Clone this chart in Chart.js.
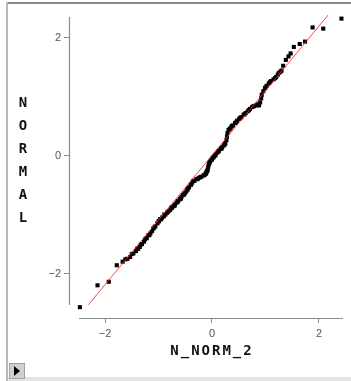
<!DOCTYPE html>
<html>
<head>
<meta charset="utf-8">
<script src="https://cdn.jsdelivr.net/npm/chart.js@4.4.1/dist/chart.umd.min.js"></script>
<style>
html,body{margin:0;padding:0;background:#fff;}
#wrap{position:relative;width:351px;height:381px;}
</style>
</head>
<body>
<div id="wrap"><canvas id="c" width="351" height="381"></canvas></div>
<script>
// Sample values (N_NORM_2) and normal quantiles (NORMAL)
const sampleX = [-2.47,-2.14,-1.93,-1.78,-1.67,-1.58,-1.53,-1.47,-1.42,-1.38,-1.35,-1.31,-1.27,-1.22,-1.19,-1.15,-1.12,-1.10,-1.06,-1.02,-0.99,-0.97,-0.93,-0.90,-0.87,-0.84,-0.81,-0.78,-0.75,-0.72,-0.69,-0.66,-0.63,-0.60,-0.57,-0.54,-0.51,-0.48,-0.46,-0.43,-0.40,-0.37,-0.33,-0.29,-0.25,-0.20,-0.16,-0.12,-0.10,-0.08,-0.07,-0.06,-0.04,-0.02,0.01,0.04,0.07,0.10,0.13,0.16,0.19,0.22,0.25,0.27,0.28,0.29,0.31,0.35,0.39,0.43,0.47,0.51,0.55,0.59,0.63,0.67,0.71,0.75,0.79,0.83,0.87,0.90,0.92,0.93,0.96,0.99,1.02,1.06,1.10,1.15,1.20,1.25,1.30,1.33,1.38,1.43,1.47,1.53,1.64,1.74,1.88,2.08,2.42,
  -1.62,-1.50,-1.40,-1.33,-1.25,-1.17,-1.08,-1.00,-0.95,-0.89,-0.83,-0.76,-0.70,-0.64,-0.58,-0.52,-0.45,-0.39,-0.35,-0.27,-0.22,-0.14,-0.11,-0.09,-0.05,0.00,0.03,0.06,0.12,0.18,0.24,0.33,0.37,0.45,0.53,0.61,0.69,0.77,0.85,0.88,1.00,1.08,1.18,1.23,1.28];
const normalY = [-2.57,-2.20,-2.14,-1.86,-1.80,-1.75,-1.72,-1.66,-1.62,-1.58,-1.55,-1.50,-1.46,-1.40,-1.35,-1.32,-1.28,-1.24,-1.20,-1.15,-1.11,-1.08,-1.05,-1.03,-1.00,-0.97,-0.94,-0.92,-0.89,-0.86,-0.83,-0.80,-0.77,-0.74,-0.70,-0.67,-0.64,-0.61,-0.58,-0.54,-0.50,-0.46,-0.43,-0.40,-0.38,-0.36,-0.34,-0.31,-0.28,-0.24,-0.19,-0.15,-0.11,-0.08,-0.04,-0.01,0.02,0.05,0.08,0.11,0.14,0.17,0.21,0.26,0.32,0.38,0.43,0.47,0.51,0.55,0.59,0.62,0.65,0.69,0.72,0.75,0.79,0.82,0.84,0.85,0.87,0.90,0.97,1.03,1.09,1.14,1.18,1.22,1.26,1.29,1.33,1.40,1.44,1.52,1.62,1.68,1.73,1.84,1.89,1.93,2.17,2.15,2.32,
  -1.76,-1.67,-1.58,-1.51,-1.42,-1.35,-1.22,-1.12,-1.08,-1.00,-0.96,-0.88,-0.85,-0.78,-0.73,-0.66,-0.56,-0.49,-0.43,-0.40,-0.37,-0.33,-0.30,-0.26,-0.13,-0.07,-0.03,0.00,0.07,0.12,0.19,0.45,0.50,0.56,0.64,0.70,0.77,0.83,0.86,0.85,1.15,1.24,1.31,1.37,1.42];
// Reference line end points
const lineX = [-2.31, 2.17];
const lineY = [-2.53, 2.38];
// Ticks
const tickValues = [-2, 0, 2];
const tickLabels = ['\u22122', '0', '2'];
const xTitle = 'N_NORM_2';
const yTitle = 'NORMAL';

const xRange = {min: -2.673, max: 2.449, axisFrom: -2.486};
const yRange = {min: -2.754, max: 2.347, axisFrom: -2.534};

const pts = sampleX.map((x, i) => ({x: x, y: normalY[i]}));
const linePts = lineX.map((x, i) => ({x: x, y: lineY[i]}));

const decor = {
  id: 'decor',
  beforeDraw(chart) {
    const ctx = chart.ctx;
    ctx.save();
    ctx.fillStyle = '#fff';
    ctx.fillRect(0, 0, chart.width, chart.height);
    // frame
    ctx.fillStyle = '#8a8a8a';
    ctx.fillRect(6, 2, chart.width - 6, 2);
    ctx.fillStyle = '#b8b8b8';
    ctx.fillRect(6, 2, 2, chart.height - 2);
    ctx.fillStyle = '#e4e4e4';
    ctx.fillRect(8, 377, chart.width - 8, 4);
    // play button
    ctx.fillStyle = '#a0a0a0';
    ctx.fillRect(9, 363, 16, 16);
    ctx.fillStyle = '#d0d0d0';
    ctx.fillRect(10, 364, 14, 14);
    ctx.fillStyle = '#000';
    ctx.beginPath();
    ctx.moveTo(14, 366);
    ctx.lineTo(20, 371);
    ctx.lineTo(14, 376);
    ctx.closePath();
    ctx.fill();
    ctx.restore();
  },
  afterDraw(chart) {
    const ctx = chart.ctx;
    const xs = chart.scales.x, ys = chart.scales.y;
    const a = chart.chartArea;
    ctx.save();
    ctx.strokeStyle = '#8c8c8c';
    ctx.lineWidth = 1.2;
    ctx.beginPath();
    ctx.moveTo(a.left + 0.5, ys.getPixelForValue(yRange.max));
    ctx.lineTo(a.left + 0.5, ys.getPixelForValue(yRange.axisFrom));
    ctx.moveTo(xs.getPixelForValue(xRange.axisFrom), a.bottom + 0.5);
    ctx.lineTo(xs.getPixelForValue(xRange.max), a.bottom + 0.5);
    ctx.stroke();
    // titles
    ctx.fillStyle = '#111';
    ctx.font = 'bold 14px "DejaVu Sans Mono"';
    ctx.textAlign = 'center';
    ctx.textBaseline = 'middle';
    for (let i = 0; i < yTitle.length; i++) {
      ctx.fillText(yTitle[i], 23, 103 + i * 23);
    }
    if ('letterSpacing' in ctx) ctx.letterSpacing = '2px';
    ctx.fillText(xTitle, 212, 351);
    ctx.restore();
  }
};

const tickFont = {family: '"Liberation Sans", Arial, sans-serif', size: 11};

new Chart(document.getElementById('c'), {
  type: 'scatter',
  data: {
    datasets: [
      {
        type: 'line',
        data: linePts,
        borderColor: 'rgba(255,40,40,0.85)',
        borderWidth: 1,
        pointRadius: 0,
        fill: false,
        clip: false
      },
      {
        data: pts,
        backgroundColor: '#000',
        borderColor: '#000',
        borderWidth: 0,
        pointStyle: 'rect',
        pointRadius: 2.9,
        clip: false
      }
    ]
  },
  options: {
    responsive: false,
    animation: false,
    events: [],
    layout: {padding: {left: 0, top: 17, right: 8, bottom: 0}},
    plugins: {legend: {display: false}, tooltip: {enabled: false}},
    scales: {
      x: {
        type: 'linear',
        min: xRange.min, max: xRange.max,
        afterBuildTicks: s => { s.ticks = tickValues.map(v => ({value: v})); },
        afterFit: s => { s.height = 63; },
        border: {display: false},
        grid: {drawOnChartArea: false, drawTicks: true, tickLength: 5, color: '#8c8c8c'},
        ticks: {
          autoSkip: false, maxRotation: 0, padding: 4,
          color: '#555', font: tickFont,
          callback: (v, i) => tickLabels[i]
        }
      },
      y: {
        type: 'linear',
        min: yRange.min, max: yRange.max,
        afterBuildTicks: s => { s.ticks = tickValues.map(v => ({value: v})); },
        afterFit: s => { s.width = 69; },
        border: {display: false},
        grid: {drawOnChartArea: false, drawTicks: true, tickLength: 5, color: '#8c8c8c'},
        ticks: {
          autoSkip: false, padding: 3,
          color: '#555', font: tickFont,
          callback: (v, i) => tickLabels[i]
        }
      }
    }
  },
  plugins: [decor]
});
</script>
</body>
</html>
